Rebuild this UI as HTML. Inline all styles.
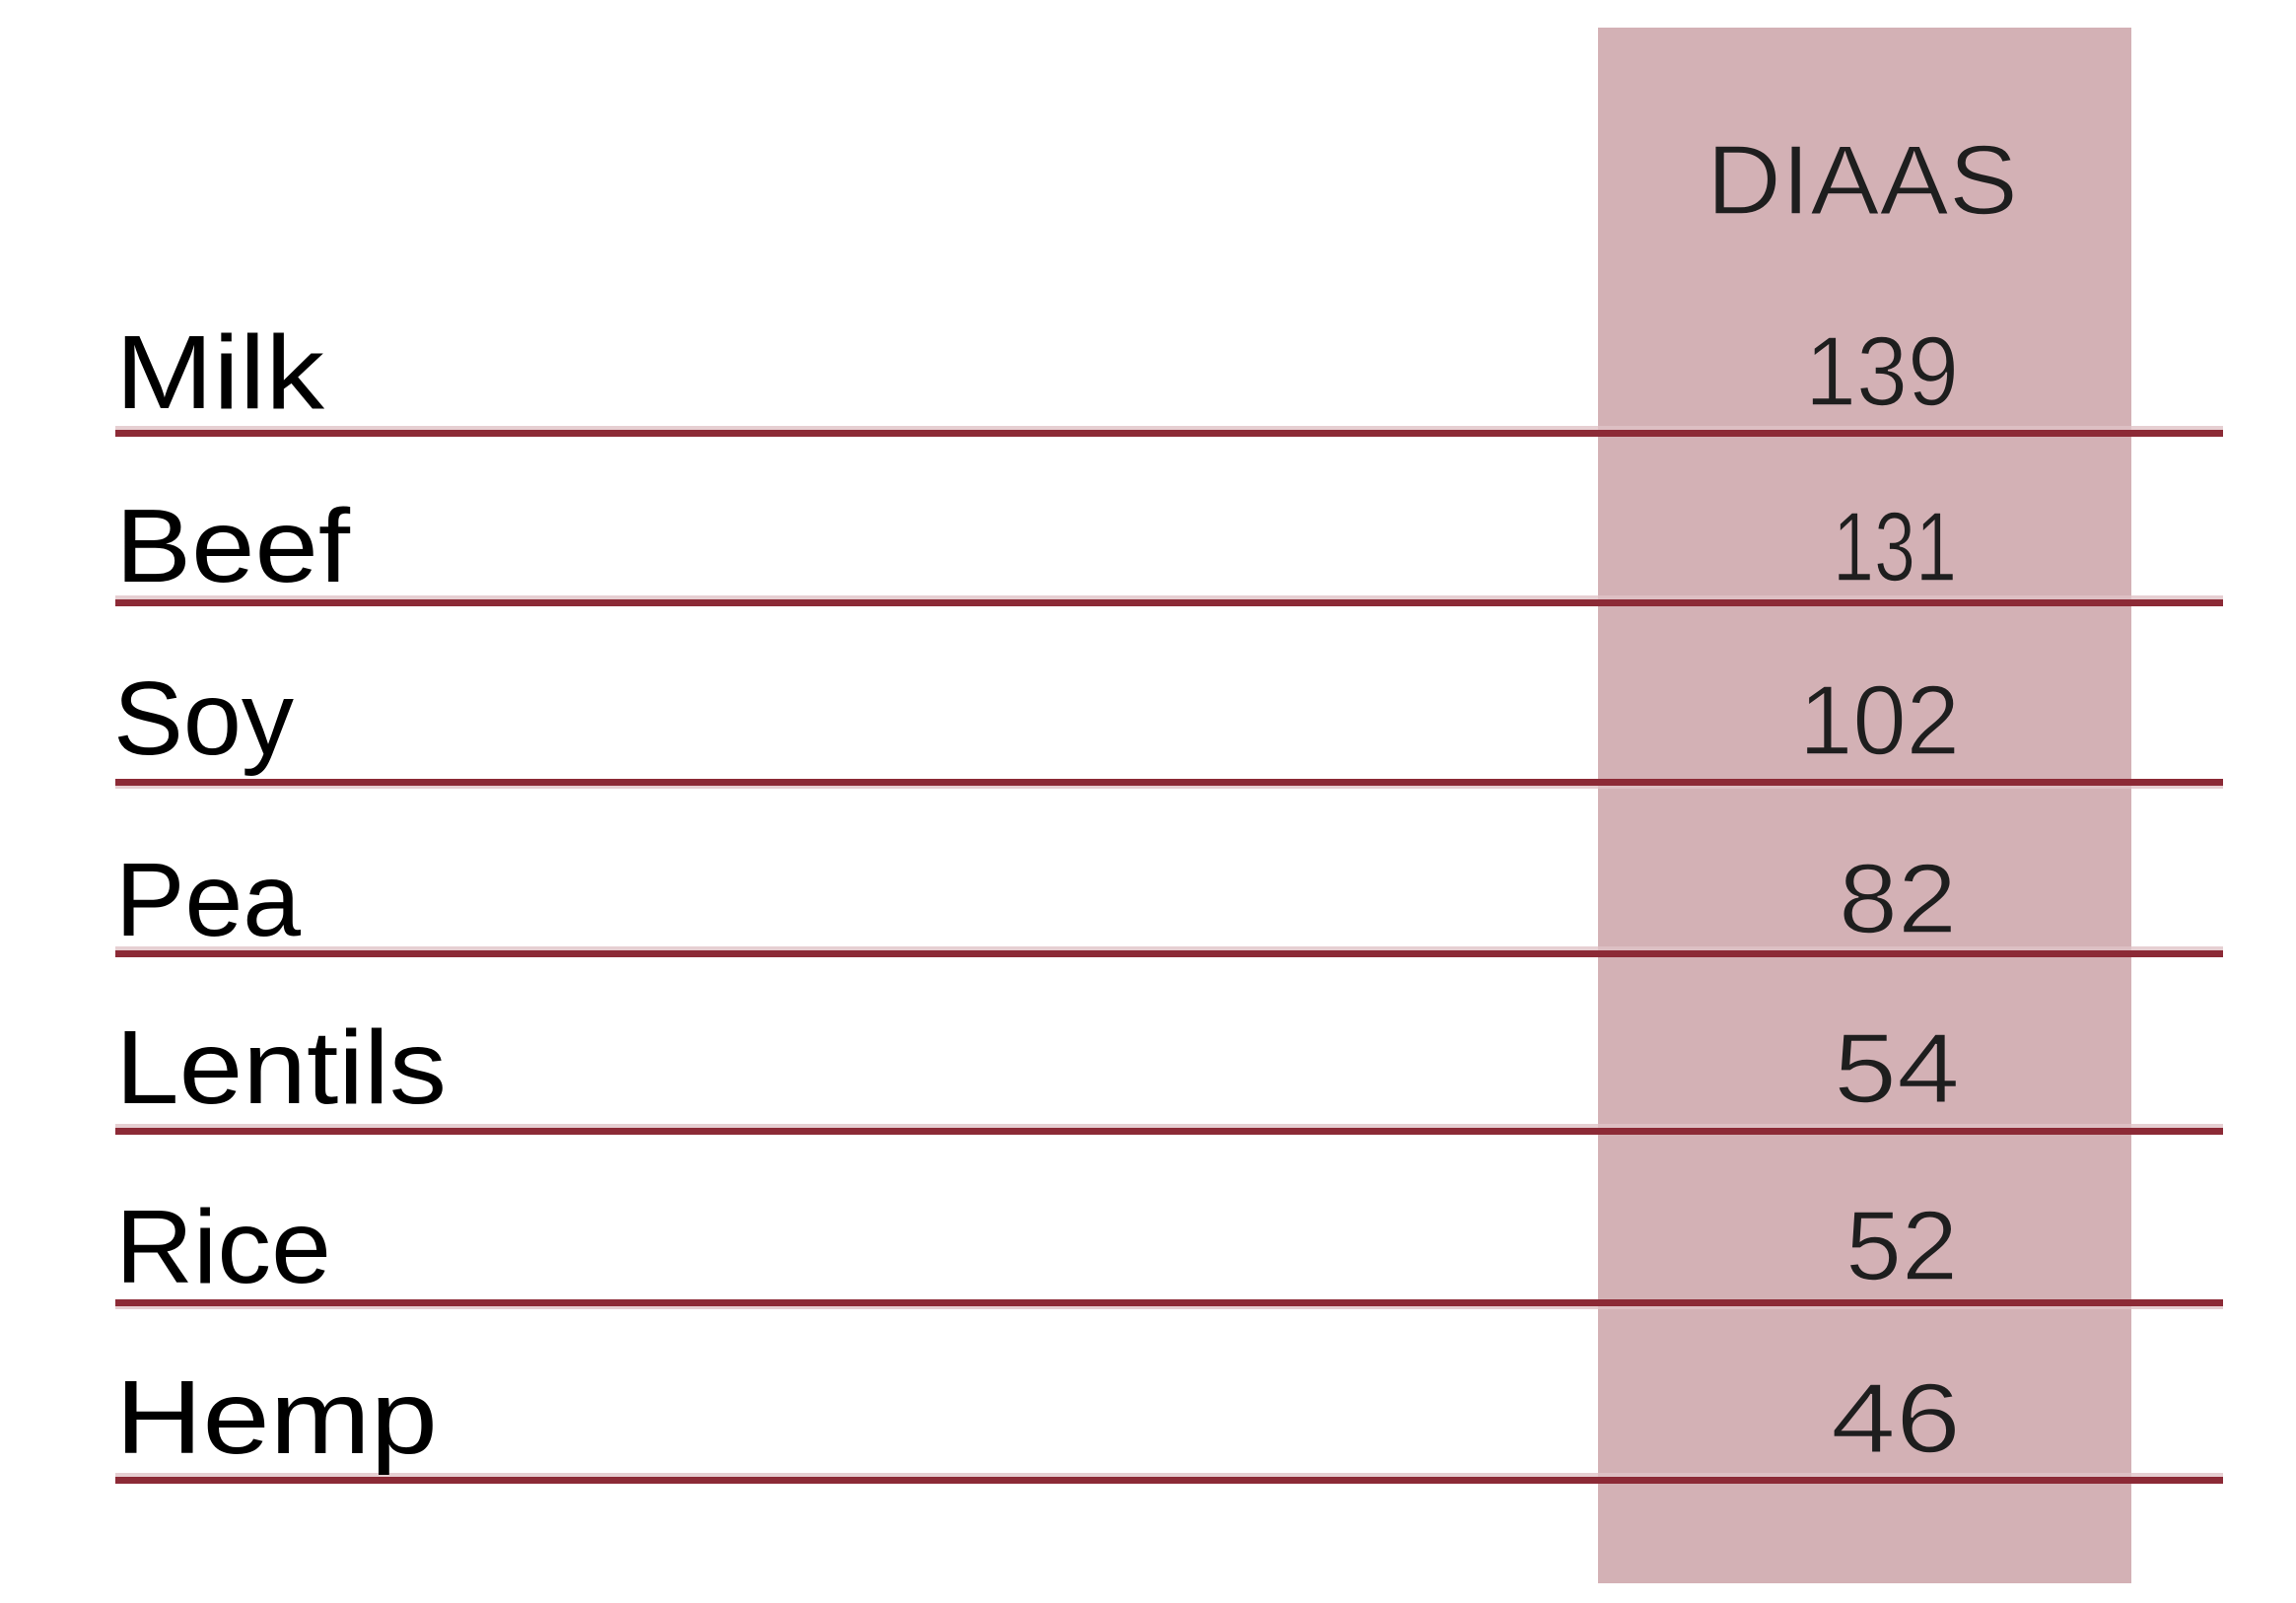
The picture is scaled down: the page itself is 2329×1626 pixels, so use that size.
<!DOCTYPE html>
<html><head><meta charset="utf-8"><style>
html,body{margin:0;padding:0;background:#fff;}
svg{display:block;}
</style></head><body>
<svg width="2329" height="1626" viewBox="0 0 2329 1626" xmlns="http://www.w3.org/2000/svg">
<rect x="0" y="0" width="2329" height="1626" fill="#fff"/>
<rect x="1621" y="28" width="541" height="1578" fill="#d3b1b5"/>
<g fill="#8c2a36">
<rect x="117" y="436" width="2138" height="7"/>
<rect x="117" y="608" width="2138" height="7"/>
<rect x="117" y="790" width="2138" height="7"/>
<rect x="117" y="964" width="2138" height="7"/>
<rect x="117" y="1144" width="2138" height="7"/>
<rect x="117" y="1318" width="2138" height="7"/>
<rect x="117" y="1498" width="2138" height="7"/>
</g>
<g fill="#e0c3c7" opacity="0.8">
<rect x="117" y="432" width="2138" height="4"/>
<rect x="117" y="604" width="2138" height="4"/>
<rect x="117" y="797" width="2138" height="3"/>
<rect x="117" y="960" width="2138" height="4"/>
<rect x="117" y="1140" width="2138" height="4"/>
<rect x="117" y="1325" width="2138" height="3"/>
<rect x="117" y="1494" width="2138" height="4"/>
</g>
<g font-family="'Liberation Sans', sans-serif" font-size="106" fill="#000">
<text x="117" y="414" textLength="212" lengthAdjust="spacingAndGlyphs">Milk</text>
<text x="117" y="590" textLength="238" lengthAdjust="spacingAndGlyphs">Beef</text>
<text x="115" y="765" textLength="183" lengthAdjust="spacingAndGlyphs">Soy</text>
<text x="117" y="949" textLength="188" lengthAdjust="spacingAndGlyphs">Pea</text>
<text x="117" y="1119" textLength="336" lengthAdjust="spacingAndGlyphs">Lentils</text>
<text x="117" y="1301" textLength="219" lengthAdjust="spacingAndGlyphs">Rice</text>
<text x="117" y="1474" textLength="327" lengthAdjust="spacingAndGlyphs">Hemp</text>
</g>
<g font-family="'Liberation Sans', sans-serif" font-size="100" fill="#1e1e1e" stroke="#d3b1b5" stroke-width="1.5">
<text x="1731" y="217" textLength="316" lengthAdjust="spacingAndGlyphs">DIAAS</text>
<text x="1831" y="411" textLength="156" lengthAdjust="spacingAndGlyphs">139</text>
<text x="1859" y="589" textLength="126" lengthAdjust="spacingAndGlyphs">131</text>
<text x="1825" y="765" textLength="163" lengthAdjust="spacingAndGlyphs">102</text>
<text x="1865" y="946" textLength="120" lengthAdjust="spacingAndGlyphs">82</text>
<text x="1860" y="1118" textLength="128" lengthAdjust="spacingAndGlyphs">54</text>
<text x="1872" y="1298" textLength="114" lengthAdjust="spacingAndGlyphs">52</text>
<text x="1857" y="1473" textLength="132" lengthAdjust="spacingAndGlyphs">46</text>
</g>
</svg>
</body></html>
